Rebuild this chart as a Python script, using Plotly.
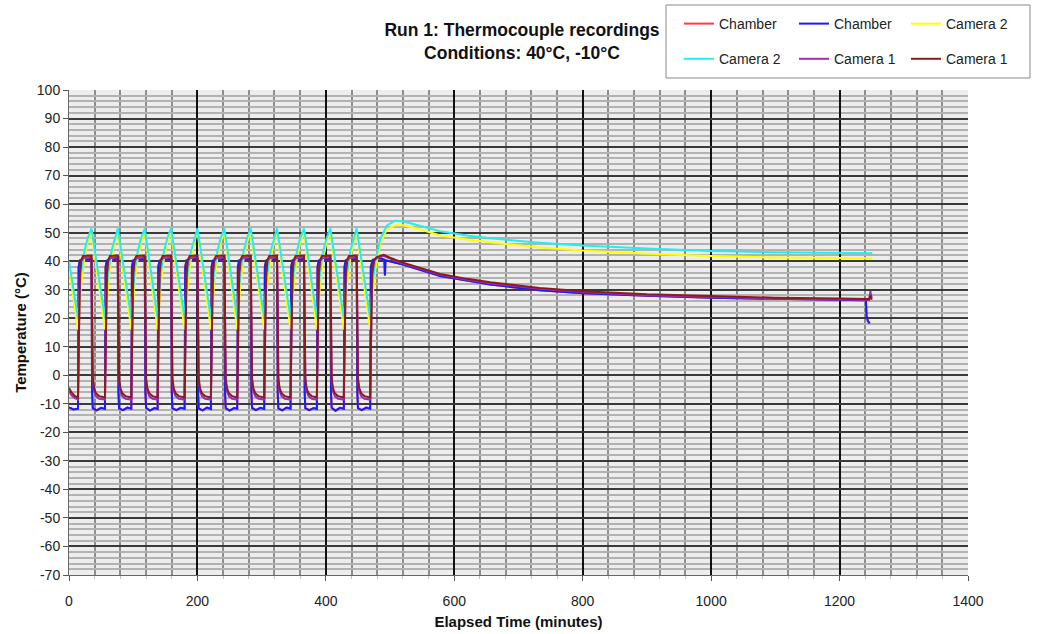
import plotly.graph_objects as go

# ---------------- data ----------------
chamber_blue_t = [0, 7,
    14, 15, 17, 35, 36, 37, 43, 50,
    56, 57, 59, 76, 77, 78, 84, 91,
    97, 98, 100, 118, 119, 120, 126, 133,
    138, 139, 141, 159, 160, 161, 167, 174,
    180, 181, 183, 200, 201, 202, 208, 215,
    221, 222, 224, 242, 243, 244, 250, 257,
    262, 263, 265, 283, 284, 285, 291, 298,
    304, 305, 307, 324, 325, 326, 332, 339,
    345, 346, 348, 366, 367, 368, 374, 381,
    386, 387, 389, 407, 408, 409, 415, 422,
    428, 429, 431, 448, 449, 450, 456, 463,
    469, 470, 473, 485, 491, 492, 493, 520, 578, 656, 733, 800, 900, 1000,
    1100, 1200, 1241, 1242, 1244, 1247]
chamber_blue_v = [-11.3, -12.0,
    -11.7, 38, 40.3, 40.8, -6, -11.5, -12.3, -11.4,
    -11.8, 38, 40.2, 40.9, -6, -11.6, -12.2, -11.3,
    -11.7, 38, 40.3, 40.8, -6, -11.4, -12.4, -11.5,
    -11.8, 38, 40.2, 40.8, -6, -11.5, -12.2, -11.4,
    -11.7, 38, 40.3, 40.9, -6, -11.6, -12.3, -11.3,
    -11.8, 38, 40.2, 40.8, -6, -11.5, -12.4, -11.5,
    -11.7, 38, 40.3, 40.8, -6, -11.4, -12.2, -11.4,
    -11.8, 38, 40.2, 40.9, -6, -11.6, -12.3, -11.3,
    -11.7, 38, 40.3, 40.8, -6, -11.5, -12.2, -11.5,
    -11.8, 38, 40.2, 40.8, -6, -11.4, -12.4, -11.4,
    -11.7, 38, 40.3, 40.9, -6, -11.5, -12.2, -11.3,
    -11.7, 38, 40.5, 41.0, 40.5, 35.0, 40.3, 38.8, 34.8, 31.8, 29.8, 28.8, 27.9, 27.2,
    26.8, 26.5, 26.3, 21.0, 19.0, 18.2]

# Red chamber trace lies underneath the blue one (not visible)
chamber_red_t = list(chamber_blue_t)
chamber_red_v = list(chamber_blue_v)

camera2_t = [0,
    14, 16, 19, 24, 29, 35,
    56, 58, 61, 66, 71, 76,
    97, 99, 102, 107, 112, 118,
    138, 140, 143, 148, 153, 159,
    180, 182, 185, 190, 195, 200,
    221, 223, 226, 231, 236, 242,
    262, 264, 267, 272, 277, 283,
    304, 306, 309, 314, 319, 324,
    345, 347, 350, 355, 360, 366,
    386, 388, 391, 396, 401, 407,
    428, 430, 433, 438, 443, 448,
    469, 472, 477, 485, 495, 508, 520, 540, 578, 620, 656, 733, 800, 900,
    1000, 1100, 1200, 1251]
camera2_cyan_v = [40,
    20, 28, 36, 43.5, 48, 51.5,
    20, 28, 36, 43.5, 48, 51.5,
    20, 28, 36, 43.5, 48, 51.5,
    20, 28, 36, 43.5, 48, 51.5,
    20, 28, 36, 43.5, 48, 51.5,
    20, 28, 36, 43.5, 48, 51.5,
    20, 28, 36, 43.5, 48, 51.5,
    20, 28, 36, 43.5, 48, 51.5,
    20, 28, 36, 43.5, 48, 51.5,
    20, 28, 36, 43.5, 48, 51.5,
    20, 28, 36, 43.5, 48, 51.5,
    20, 30, 40, 48, 52.5, 54.2, 54.0, 52.8, 50.5, 49.0, 48.0, 46.5, 45.5, 44.4,
    43.6, 43.1, 42.9, 42.8]
camera2_yellow_v = [38,
    16, 23, 32, 41, 46.5, 50.3,
    16, 23, 32, 41, 46.5, 50.3,
    16, 23, 32, 41, 46.5, 50.3,
    16, 23, 32, 41, 46.5, 50.3,
    16, 23, 32, 41, 46.5, 50.3,
    16, 23, 32, 41, 46.5, 50.3,
    16, 23, 32, 41, 46.5, 50.3,
    16, 23, 32, 41, 46.5, 50.3,
    16, 23, 32, 41, 46.5, 50.3,
    16, 23, 32, 41, 46.5, 50.3,
    16, 23, 32, 41, 46.5, 50.3,
    16, 26, 37, 46.5, 51.0, 52.6, 52.6, 51.6, 49.0, 47.6, 46.6, 44.8, 43.7, 42.6,
    41.8, 41.3, 41.1, 41.0]

camera1_t = [0, 4, 9,
    14, 15.5, 17, 19, 22, 35, 36, 37, 39, 42, 47,
    56, 57.5, 59, 61, 64, 76, 77, 78, 80, 83, 88,
    97, 98.5, 100, 102, 105, 118, 119, 120, 122, 125, 130,
    138, 139.5, 141, 143, 146, 159, 160, 161, 163, 166, 171,
    180, 181.5, 183, 185, 188, 200, 201, 202, 204, 207, 212,
    221, 222.5, 224, 226, 229, 242, 243, 244, 246, 249, 254,
    262, 263.5, 265, 267, 270, 283, 284, 285, 287, 290, 295,
    304, 305.5, 307, 309, 312, 324, 325, 326, 328, 331, 336,
    345, 346.5, 348, 350, 353, 366, 367, 368, 370, 373, 378,
    386, 387.5, 389, 391, 394, 407, 408, 409, 411, 414, 419,
    428, 429.5, 431, 433, 436, 448, 449, 450, 452, 455, 460,
    469, 470.5, 472, 475, 480, 490, 500, 520, 578, 620, 656, 733, 800, 900,
    1000, 1100, 1200, 1246, 1248, 1250]
camera1_darkred_v = [-4.5, -6.0, -7.2,
    -7.8, 15, 36, 40.5, 41.8, 42, 25, -1, -4.5, -6.3, -7.3,
    -7.8, 15, 36, 40.5, 41.8, 42, 25, -1, -4.5, -6.3, -7.3,
    -7.8, 15, 36, 40.5, 41.8, 42, 25, -1, -4.5, -6.3, -7.3,
    -7.8, 15, 36, 40.5, 41.8, 42, 25, -1, -4.5, -6.3, -7.3,
    -7.8, 15, 36, 40.5, 41.8, 42, 25, -1, -4.5, -6.3, -7.3,
    -7.8, 15, 36, 40.5, 41.8, 42, 25, -1, -4.5, -6.3, -7.3,
    -7.8, 15, 36, 40.5, 41.8, 42, 25, -1, -4.5, -6.3, -7.3,
    -7.8, 15, 36, 40.5, 41.8, 42, 25, -1, -4.5, -6.3, -7.3,
    -7.8, 15, 36, 40.5, 41.8, 42, 25, -1, -4.5, -6.3, -7.3,
    -7.8, 15, 36, 40.5, 41.8, 42, 25, -1, -4.5, -6.3, -7.3,
    -7.8, 15, 36, 40.5, 41.8, 42, 25, -1, -4.5, -6.3, -7.3,
    -7.8, 15, 36, 40.5, 41.5, 42.2, 41.2, 39.5, 35.5, 33.8, 32.6, 30.6, 29.5, 28.4,
    27.7, 27.2, 26.9, 26.7, 28.0, 26.5]
camera1_purple_v = [-5.5, -7.0, -8.0,
    -8.5, 14, 35, 40, 41, 41.5, 24, -2, -5.5, -7.3, -8.2,
    -8.5, 14, 35, 40, 41, 41.5, 24, -2, -5.5, -7.3, -8.2,
    -8.5, 14, 35, 40, 41, 41.5, 24, -2, -5.5, -7.3, -8.2,
    -8.5, 14, 35, 40, 41, 41.5, 24, -2, -5.5, -7.3, -8.2,
    -8.5, 14, 35, 40, 41, 41.5, 24, -2, -5.5, -7.3, -8.2,
    -8.5, 14, 35, 40, 41, 41.5, 24, -2, -5.5, -7.3, -8.2,
    -8.5, 14, 35, 40, 41, 41.5, 24, -2, -5.5, -7.3, -8.2,
    -8.5, 14, 35, 40, 41, 41.5, 24, -2, -5.5, -7.3, -8.2,
    -8.5, 14, 35, 40, 41, 41.5, 24, -2, -5.5, -7.3, -8.2,
    -8.5, 14, 35, 40, 41, 41.5, 24, -2, -5.5, -7.3, -8.2,
    -8.5, 14, 35, 40, 41, 41.5, 24, -2, -5.5, -7.3, -8.2,
    -8.5, 14, 35, 40, 41.2, 41.9, 40.9, 39.2, 35.2, 33.5, 32.3, 30.3, 29.2, 28.1,
    27.4, 26.9, 26.6, 26.4, 29.5, 27.0]

y_tick_values = [-70, -60, -50, -40, -30, -20, -10, 0, 10, 20, 30, 40, 50, 60, 70, 80, 90, 100]
y_tick_labels = ["-70", "-60", "-50", "-40", "-30", "-20", "-10", "0", "10", "20",
                 "30", "40", "50", "60", "70", "80", "90", "100"]

# (name, times, values, colour, legend column)
series = [
    ("Chamber", chamber_red_t, chamber_red_v, "#ff3b3b", "legend"),
    ("Chamber", chamber_blue_t, chamber_blue_v, "#1a1aff", "legend2"),
    ("Camera 2", camera2_t, camera2_yellow_v, "#ffff00", "legend3"),
    ("Camera 2", camera2_t, camera2_cyan_v, "#22eeee", "legend"),
    ("Camera 1", camera1_t, camera1_purple_v, "#9b30b0", "legend2"),
    ("Camera 1", camera1_t, camera1_darkred_v, "#8b1c1c", "legend3"),
]

FONT = "Arial, Liberation Sans, sans-serif"
W, H = 1046, 634
ML, MR, MT, MB = 69, 78, 90, 59
PW, PH = W - ML - MR, H - MT - MB


def px_to_paper_x(px):
    return (px - ML) / PW


def px_to_paper_y(py):
    return (H - MB - py) / PH


fig = go.Figure()
for i, (name, t, v, col, leg) in enumerate(series):
    fig.add_trace(go.Scatter(x=t, y=v, mode="lines", name=name,
                             legend=leg, legendgroup="g%d" % i,
                             line=dict(color=col, width=2)))

leg_common = dict(orientation="v", xref="container", yref="container",
                  xanchor="left", yanchor="top", bgcolor="rgba(0,0,0,0)",
                  borderwidth=0, tracegroupgap=14, itemwidth=30,
                  font=dict(family=FONT, size=14, color="#222"))

fig.update_layout(
    width=W, height=H,
    margin=dict(l=ML, r=MR, t=MT, b=MB, autoexpand=False),
    paper_bgcolor="white",
    plot_bgcolor="#ededed",
    font=dict(family=FONT, size=14, color="#222"),
    title=dict(text="<b>Run 1: Thermocouple recordings</b><br><b>Conditions: 40°C, -10°C</b>",
               x=522 / W, xanchor="center", xref="container",
               y=1 - 36 / H, yanchor="top", yref="container",
               font=dict(family=FONT, size=17.5, color="#111")),
    legend=dict(x=679 / W, y=1 - 8 / H, **leg_common),
    legend2=dict(x=794 / W, y=1 - 8 / H, **leg_common),
    legend3=dict(x=906 / W, y=1 - 8 / H, **leg_common),
    showlegend=True,
    shapes=[dict(type="rect", xref="paper", yref="paper",
                 x0=px_to_paper_x(666), x1=px_to_paper_x(1030),
                 y0=px_to_paper_y(78), y1=px_to_paper_y(5),
                 line=dict(color="#8a8a8a", width=1), fillcolor="rgba(0,0,0,0)",
                 layer="below")],
)

fig.update_xaxes(
    range=[0, 1400], dtick=200, tick0=0,
    showgrid=True, gridcolor="#111111", gridwidth=1.6,
    minor=dict(dtick=40, showgrid=True, gridcolor="#8e8e8e", gridwidth=1.5,
               ticks="outside", ticklen=3, tickcolor="#c4c4c4"),
    ticks="outside", ticklen=5, tickcolor="#555",
    showline=True, linecolor="#666", linewidth=1, mirror=False,
    zeroline=False, ticklabelstandoff=8,
    tickfont=dict(family=FONT, size=14, color="#222"),
    title=dict(text="<b>Elapsed Time (minutes)</b>", standoff=8,
               font=dict(family=FONT, size=15, color="#111")),
)
fig.update_yaxes(
    range=[-70, 100], tickmode="array", tickvals=y_tick_values, ticktext=y_tick_labels,
    showgrid=True, gridcolor="#3a3a3a", gridwidth=1.5,
    minor=dict(dtick=2, tick0=0, showgrid=True, gridcolor="#b2b2b2", gridwidth=1.5),
    ticks="outside", ticklen=5, tickcolor="#555",
    showline=True, linecolor="#666", linewidth=1,
    zeroline=False,
    tickfont=dict(family=FONT, size=14, color="#222"),
    title=dict(text="<b>Temperature (°C)</b>", standoff=6,
               font=dict(family=FONT, size=15, color="#111")),
)

fig.write_html("out.html")
